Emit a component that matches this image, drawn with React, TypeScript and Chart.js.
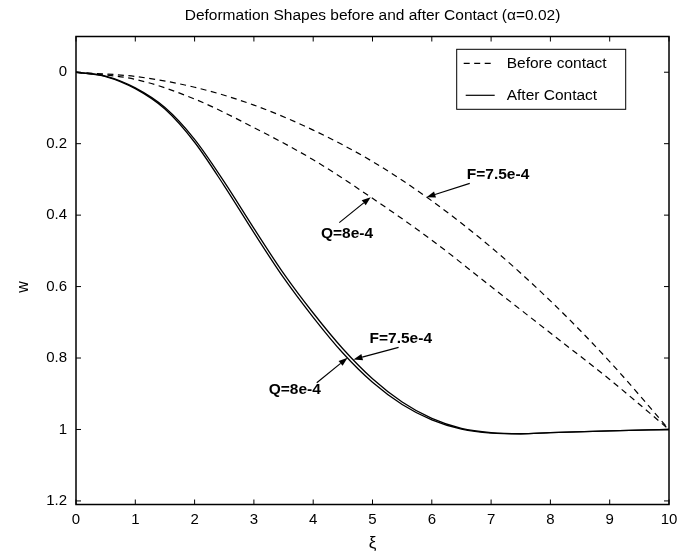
import React, { useEffect, useRef } from "react";
import { Chart, registerables } from "chart.js";

Chart.register(...registerables);

// Beam deflection w(ξ) before contact, for the two load cases
const xiCoarse = [0, 1, 2, 3, 4, 5, 6, 7, 8, 9, 10];
const wBeforeF = [0, 0.012, 0.042, 0.092, 0.162, 0.25, 0.36, 0.49, 0.64, 0.81, 1.0];
const wBeforeQ = [0, 0.02, 0.075, 0.155, 0.245, 0.353, 0.47, 0.6, 0.73, 0.86, 1.0];

// Deflection after contact (the two load cases nearly coincide)
const xiFine = [0, 0.5, 1, 1.5, 2, 2.5, 3, 3.5, 4, 4.5, 5, 5.5, 6, 6.5, 7, 7.5, 8, 9, 10];
const wAfterQ = [0, 0.012, 0.046, 0.103, 0.196, 0.318, 0.449, 0.575, 0.686, 0.786, 0.868, 0.93, 0.973, 0.999, 1.01, 1.012, 1.009, 1.004, 1.0];
const wAfterF = [0, 0.011, 0.044, 0.099, 0.188, 0.307, 0.437, 0.563, 0.674, 0.774, 0.858, 0.923, 0.969, 0.997, 1.009, 1.012, 1.009, 1.004, 1.0];

const xTicks = [0, 1, 2, 3, 4, 5, 6, 7, 8, 9, 10];
const yTicks = [0, 0.2, 0.4, 0.6, 0.8, 1, 1.2];

const titleText = "Deformation Shapes before and after Contact (\u03b1=0.02)";
const xTitle = "\u03be";
const yTitle = "w";
const legendLabels = ["Before contact", "After Contact"];

const FONT = "'Liberation Sans', Arial, Helvetica, sans-serif";
const DASH = [6, 4.5];

// Callouts: label anchor (left, middle) and arrow tail in data units,
// arrow tip placed on a curve at the given ξ
type Callout = {
  text: string;
  tx: number;
  ty: number;
  ax: number;
  ay: number;
  tipX: number;
  xs: number[];
  ws: number[];
};

const callouts: Callout[] = [
  { text: "F=7.5e-4", tx: 6.59, ty: 0.286, ax: 6.64, ay: 0.311, tipX: 5.91, xs: xiCoarse, ws: wBeforeF },
  { text: "Q=8e-4", tx: 4.13, ty: 0.451, ax: 4.44, ay: 0.421, tipX: 4.97, xs: xiCoarse, ws: wBeforeQ },
  { text: "F=7.5e-4", tx: 4.95, ty: 0.745, ax: 5.44, ay: 0.77, tipX: 4.68, xs: xiFine, ws: wAfterF },
  { text: "Q=8e-4", tx: 3.25, ty: 0.89, ax: 4.06, ay: 0.869, tipX: 4.58, xs: xiFine, ws: wAfterQ },
];

function lerp(xs: number[], ws: number[], x: number): number {
  for (let i = 0; i < xs.length - 1; i++) {
    if (x >= xs[i] && x <= xs[i + 1]) {
      const t = (x - xs[i]) / (xs[i + 1] - xs[i]);
      return ws[i] + t * (ws[i + 1] - ws[i]);
    }
  }
  return ws[ws.length - 1];
}

const toPoints = (xs: number[], ws: number[]) => xs.map((x, i) => ({ x, y: ws[i] }));

const decorPlugin = {
  id: "decor",
  afterDatasetsDraw(chart: any) {
    const { ctx, chartArea: a } = chart;
    const xs = chart.scales.x;
    const ys = chart.scales.y;
    const seg = (x1: number, y1: number, x2: number, y2: number) => {
      ctx.beginPath();
      ctx.moveTo(x1, y1);
      ctx.lineTo(x2, y2);
      ctx.stroke();
    };
    ctx.save();
    ctx.strokeStyle = "#000";
    ctx.fillStyle = "#000";

    // axes box
    ctx.setLineDash([]);
    ctx.lineWidth = 1.5;
    ctx.strokeRect(a.left, a.top, a.right - a.left, a.bottom - a.top);

    // inward tick marks on all four sides
    ctx.lineWidth = 1;
    const tl = 5;
    xTicks.forEach((v) => {
      const px = xs.getPixelForValue(v);
      seg(px, a.bottom, px, a.bottom - tl);
      seg(px, a.top, px, a.top + tl);
    });
    yTicks.forEach((v) => {
      const py = ys.getPixelForValue(v);
      seg(a.left, py, a.left + tl, py);
      seg(a.right, py, a.right - tl, py);
    });

    // callouts with arrows
    ctx.font = `bold 15.5px ${FONT}`;
    ctx.textAlign = "left";
    ctx.textBaseline = "middle";
    callouts.forEach((c) => {
      const tx = xs.getPixelForValue(c.tx);
      const ty = ys.getPixelForValue(c.ty);
      ctx.fillText(c.text, tx, ty);
      const x0 = xs.getPixelForValue(c.ax);
      const y0 = ys.getPixelForValue(c.ay);
      const x1 = xs.getPixelForValue(c.tipX);
      const y1 = ys.getPixelForValue(lerp(c.xs, c.ws, c.tipX));
      const ang = Math.atan2(y1 - y0, x1 - x0);
      const hl = 9;
      const hw = 3.2;
      const bx = x1 - hl * Math.cos(ang);
      const by = y1 - hl * Math.sin(ang);
      ctx.lineWidth = 1.2;
      seg(x0, y0, bx, by);
      ctx.beginPath();
      ctx.moveTo(x1, y1);
      ctx.lineTo(bx + hw * Math.sin(ang), by - hw * Math.cos(ang));
      ctx.lineTo(bx - hw * Math.sin(ang), by + hw * Math.cos(ang));
      ctx.closePath();
      ctx.fill();
    });

    // legend box
    const lx = a.right - 212.3;
    const ly = a.top + 12.8;
    const lw = 169;
    const lh = 60;
    ctx.fillStyle = "#fff";
    ctx.fillRect(lx, ly, lw, lh);
    ctx.lineWidth = 1;
    ctx.strokeRect(lx, ly, lw, lh);
    ctx.fillStyle = "#000";
    ctx.lineWidth = 1.2;
    ctx.setLineDash(DASH);
    seg(lx + 7, ly + 14, lx + 35, ly + 14);
    ctx.setLineDash([]);
    seg(lx + 9, ly + 46, lx + 38, ly + 46);
    ctx.font = `15.5px ${FONT}`;
    ctx.fillText(legendLabels[0], lx + 50, ly + 14);
    ctx.fillText(legendLabels[1], lx + 50, ly + 46);

    // titles
    const cx = (a.left + a.right) / 2;
    ctx.textAlign = "center";
    ctx.font = `15.5px ${FONT}`;
    ctx.fillText(titleText, cx, 16);
    ctx.font = `17px ${FONT}`;
    ctx.fillText(xTitle, cx, 543);
    ctx.save();
    ctx.translate(24, 287);
    ctx.rotate(-Math.PI / 2);
    ctx.font = `16px ${FONT}`;
    ctx.fillText(yTitle, 0, 0);
    ctx.restore();

    ctx.restore();
  },
};

export default function App() {
  const ref = useRef<HTMLCanvasElement | null>(null);

  useEffect(() => {
    document.body.style.margin = "0";
    const canvas = ref.current;
    if (!canvas) return;
    const lineStyle = {
      borderColor: "#000",
      pointRadius: 0,
      fill: false,
      cubicInterpolationMode: "monotone" as const,
    };
    const chart = new Chart(canvas, {
      type: "line",
      data: {
        datasets: [
          { ...lineStyle, label: "Before contact F", data: toPoints(xiCoarse, wBeforeF), borderWidth: 1.2, borderDash: DASH },
          { ...lineStyle, label: "Before contact Q", data: toPoints(xiCoarse, wBeforeQ), borderWidth: 1.2, borderDash: DASH },
          { ...lineStyle, label: "After Contact F", data: toPoints(xiFine, wAfterF), borderWidth: 1.3 },
          { ...lineStyle, label: "After Contact Q", data: toPoints(xiFine, wAfterQ), borderWidth: 1.3 },
        ],
      },
      options: {
        animation: false,
        responsive: false,
        devicePixelRatio: 1,
        events: [],
        layout: { padding: { left: 0, right: 20, top: 36.5, bottom: 0 } },
        plugins: {
          legend: { display: false },
          title: { display: false },
          tooltip: { enabled: false },
        },
        scales: {
          x: {
            type: "linear",
            min: 0,
            max: 10,
            grid: { display: false, drawTicks: false },
            border: { display: false },
            afterBuildTicks: (s: any) => {
              s.ticks = xTicks.map((v) => ({ value: v }));
            },
            afterFit: (s: any) => {
              s.height = 49.5;
            },
            ticks: {
              color: "#000",
              padding: 6,
              maxRotation: 0,
              autoSkip: false,
              font: { family: FONT, size: 15 },
              callback: (v: any) => String(v),
            },
          },
          y: {
            type: "linear",
            reverse: true,
            min: -0.1,
            max: 1.21,
            grid: { display: false, drawTicks: false },
            border: { display: false },
            afterBuildTicks: (s: any) => {
              s.ticks = yTicks.map((v) => ({ value: v }));
            },
            afterFit: (s: any) => {
              s.width = 76;
            },
            ticks: {
              color: "#000",
              padding: 9,
              autoSkip: false,
              font: { family: FONT, size: 15 },
              callback: (v: any) => String(Number(Number(v).toFixed(1))),
            },
          },
        },
      },
      plugins: [decorPlugin],
    });
    return () => chart.destroy();
  }, []);

  return (
    <canvas
      ref={ref}
      width={689}
      height={554}
      style={{ display: "block", width: 689, height: 554 }}
    />
  );
}
